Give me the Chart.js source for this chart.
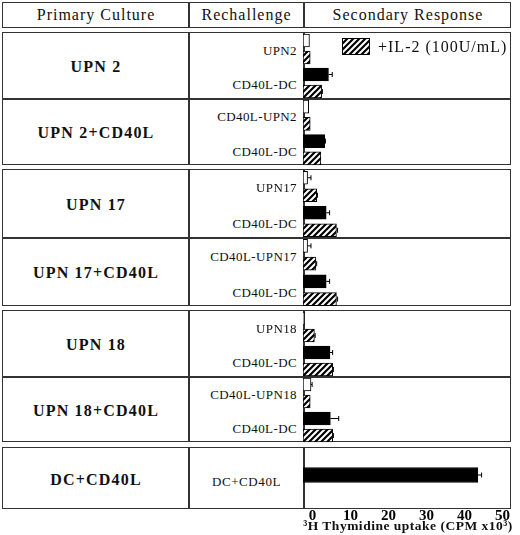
<!DOCTYPE html>
<html>
<head>
<meta charset="utf-8">
<script src="https://cdn.jsdelivr.net/npm/chart.js@4.4.1/dist/chart.umd.min.js"></script>
<style>
  html, body { margin: 0; padding: 0; background: #fff; }
  body { width: 520px; height: 535px; position: relative; overflow: hidden; font-family: "Liberation Serif", "Times New Roman", serif; color: #111; }
  .box { position: absolute; box-sizing: border-box; border: 1.5px solid #333; }
  .vline { position: absolute; width: 1.5px; background: #333; }
  .hline { position: absolute; height: 1.5px; background: #333; }
  .txt { position: absolute; white-space: nowrap; line-height: 1; }
  .head { font-size: 16px; letter-spacing: 1px; transform: translate(-50%, -50%); }
  .group { font-size: 16px; font-weight: bold; letter-spacing: 1.2px; transform: translate(-50%, -50%); }
  .rech { font-size: 13px; letter-spacing: 0.4px; transform: translate(-100%, -50%); }
  .rech-c { font-size: 13px; letter-spacing: 0.6px; transform: translate(-50%, -50%); }
  .legend { font-size: 16px; letter-spacing: 1px; transform: translate(0, -50%); }
  .xtitle { font-size: 13.5px; font-weight: bold; letter-spacing: 0.5px; transform: translate(-50%, -50%); }
  canvas { position: absolute; }
</style>
</head>
<body>
<script>
// ---- data ----
const headers = ['Primary Culture', 'Rechallenge', 'Secondary Response'];
const primaryCulture = ['UPN 2', 'UPN 2+CD40L', 'UPN 17', 'UPN 17+CD40L', 'UPN 18', 'UPN 18+CD40L', 'DC+CD40L'];
const rechallenge = [
  ['UPN2', 'CD40L-DC'],
  ['CD40L-UPN2', 'CD40L-DC'],
  ['UPN17', 'CD40L-DC'],
  ['CD40L-UPN17', 'CD40L-DC'],
  ['UPN18', 'CD40L-DC'],
  ['CD40L-UPN18', 'CD40L-DC'],
  ['DC+CD40L']
];
// per row: [tumor alone, tumor +IL-2, DC alone, DC +IL-2]  (CPM x10^3)
const tumorAlone = [1.7, 1.5, 1.2, 1.2, 0.4, 2.1];
const tumorIL2   = [1.9, 1.9, 3.6, 3.4, 3.0, 1.9];
const dcAlone    = [6.7, 5.7, 6.1, 6.1, 7.1, 7.2];
const dcIL2      = [4.9, 4.7, 8.8, 8.8, 7.8, 7.8];
const tumorAloneErr = [0, 0, 0.9, 0.9, 0, 0.3];
const tumorIL2Err   = [0, 0, 0.2, 0.2, 0.2, 0];
const dcAloneErr    = [1.0, 0.2, 0.9, 0.9, 0.7, 2.2];
const dcIL2Err      = [0.2, 0, 0.3, 0.3, 0.2, 0.2];
const dcCd40l = [46.0];
const dcCd40lErr = [1.0];
const xTicks = [0, 10, 20, 30, 40, 50];
const legendLabel = '+IL-2 (100U/mL)';
const xTitle = '\u00b3H Thymidine uptake (CPM x10\u00b3)';

// ---- layout ----
const colX = [2, 188, 303, 511];
const groups = [[32, 165, 98], [169, 306, 237], [310, 442, 376], [447, 509, null]];
const rowSpans = [[32, 98], [98, 165], [169, 237], [237, 306], [310, 376], [376, 442], [447, 509]];
const X_MAX = (colX[3] - colX[2]) / 3.8;
const TICK_PAD = 6;

function el(cls, css, text) {
  const d = document.createElement('div');
  d.className = cls;
  Object.assign(d.style, css);
  if (text !== undefined) d.textContent = text;
  document.body.appendChild(d);
  return d;
}

function drawGroup(top, bottom, split) {
  el('box', { left: colX[0] + 'px', top: top + 'px', width: (colX[3] - colX[0]) + 'px', height: (bottom - top) + 'px' });
  el('vline', { left: colX[1] + 'px', top: top + 'px', height: (bottom - top) + 'px' });
  el('vline', { left: colX[2] + 'px', top: top + 'px', height: (bottom - top) + 'px' });
  if (split) el('hline', { left: colX[0] + 'px', top: split + 'px', width: (colX[3] - colX[0]) + 'px' });
}

// header
drawGroup(2, 28, null);
headers.forEach((h, i) => {
  el('txt head', { left: ((colX[i] + colX[i + 1]) / 2 + 1) + 'px', top: '15px' }, h);
});
groups.forEach(g => drawGroup(g[0], g[1], g[2]));

// hatch pattern
function hatch(ctx) {
  const t = document.createElement('canvas');
  t.width = 6; t.height = 6;
  const c = t.getContext('2d');
  c.fillStyle = '#fff';
  c.fillRect(0, 0, 6, 6);
  c.strokeStyle = '#000';
  c.lineWidth = 2.2;
  c.beginPath();
  c.moveTo(-1, 7); c.lineTo(7, -1);
  c.moveTo(-4, 4); c.lineTo(4, -4);
  c.moveTo(2, 10); c.lineTo(10, 2);
  c.stroke();
  return ctx.createPattern(t, 'repeat');
}

const errorBars = {
  id: 'errorBars',
  afterDatasetsDraw(chart) {
    const { ctx, scales: { x } } = chart;
    const ds = chart.data.datasets[0];
    const meta = chart.getDatasetMeta(0);
    ctx.save();
    ctx.strokeStyle = '#000';
    ctx.lineWidth = 1;
    meta.data.forEach((bar, i) => {
      const e = ds.errors[i];
      if (!e) return;
      const x0 = x.getPixelForValue(ds.data[i]);
      const x1 = x.getPixelForValue(ds.data[i] + e);
      ctx.beginPath();
      ctx.moveTo(x0, bar.y); ctx.lineTo(x1, bar.y);
      ctx.moveTo(x1, bar.y - 2.5); ctx.lineTo(x1, bar.y + 2.5);
      ctx.stroke();
    });
    ctx.restore();
  }
};

function makeChart(rowIdx, values, errors, fills, thickness, showAxis, height) {
  const [top, bottom] = rowSpans[rowIdx];
  const cv = document.createElement('canvas');
  cv.width = colX[3] - colX[2];
  cv.height = height || (bottom - top + 2);
  cv.style.left = colX[2] + 'px';
  cv.style.top = top + 'px';
  document.body.appendChild(cv);
  const ctx = cv.getContext('2d');
  const pat = hatch(ctx);
  return new Chart(ctx, {
    type: 'bar',
    data: {
      labels: values.map((v, i) => String(i)),
      datasets: [{
        data: values,
        errors: errors,
        backgroundColor: fills.map(f => f === 'hatch' ? pat : f),
        borderColor: '#000',
        borderWidth: 1,
        borderSkipped: false,
        barThickness: thickness
      }]
    },
    options: {
      indexAxis: 'y',
      responsive: false,
      animation: false,
      layout: { padding: 0 },
      plugins: { legend: { display: false }, tooltip: { enabled: false } },
      scales: {
        y: { display: false },
        x: {
          display: showAxis,
          min: 0,
          max: X_MAX,
          grid: { display: false, drawTicks: false },
          border: { display: false },
          afterBuildTicks: axis => { axis.ticks = xTicks.map(v => ({ value: v })); },
          afterFit: axis => { axis.paddingLeft = 0; axis.paddingRight = 0; },
          ticks: {
            autoSkip: false,
            maxRotation: 0,
            padding: TICK_PAD,
            labelOffset: 9.5,
            color: '#000',
            font: { family: 'Liberation Serif', size: 15, weight: 'bold', lineHeight: 1 }
          },
          title: { display: false }
        }
      }
    },
    plugins: [errorBars]
  });
}

// rows
primaryCulture.forEach((name, r) => {
  const [top, bottom] = rowSpans[r];
  const h = bottom - top;
  el('txt group', { left: ((colX[0] + colX[1]) / 2 + 1) + 'px', top: (top + h / 2 + 1.5) + 'px' }, name);
  const labs = rechallenge[r];
  if (labs.length === 2) {
    el('txt rech', { left: '297px', top: Math.round(top + h * 0.27) + 'px' }, labs[0]);
    el('txt rech', { left: '297px', top: Math.round(top + h * 0.79) + 'px' }, labs[1]);
  } else {
    el('txt rech-c', { left: ((colX[1] + colX[2]) / 2 + 1) + 'px', top: (top + h / 2 + 3) + 'px' }, labs[0]);
  }
  if (r < 6) {
    makeChart(r,
      [tumorAlone[r], tumorIL2[r], dcAlone[r], dcIL2[r]],
      [tumorAloneErr[r], tumorIL2Err[r], dcAloneErr[r], dcIL2Err[r]],
      ['#fff', 'hatch', '#000', 'hatch'], 13, false);
  } else {
    makeChart(r, dcCd40l, dcCd40lErr, ['#000'], 15, true, (bottom - top) + TICK_PAD + 15);
  }
});

// axis title
el('txt xtitle', { left: '408px', top: '526px' }, xTitle);

// legend
const sw = document.createElement('canvas');
sw.width = 28; sw.height = 17;
sw.style.left = '342px'; sw.style.top = '38px';
document.body.appendChild(sw);
const sctx = sw.getContext('2d');
sctx.fillStyle = hatch(sctx);
sctx.fillRect(0, 0, 28, 17);
sctx.strokeStyle = '#000';
sctx.lineWidth = 1;
sctx.strokeRect(0.5, 0.5, 27, 16);
el('txt legend', { left: '378px', top: '47px' }, legendLabel);
</script>
</body>
</html>
